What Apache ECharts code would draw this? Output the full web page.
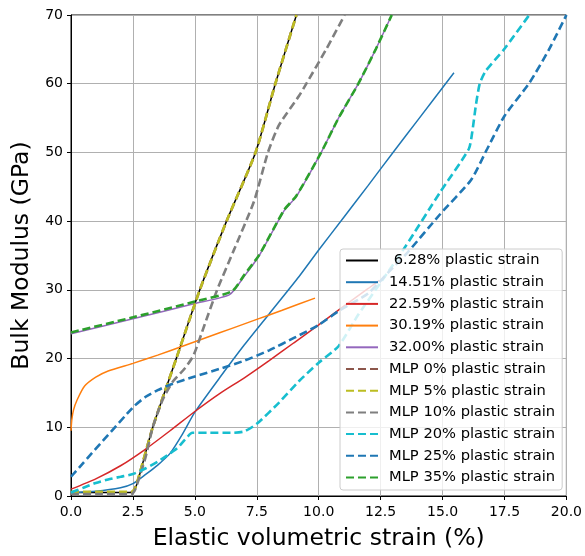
<!DOCTYPE html>
<html>
<head>
<meta charset="utf-8">
<script src="https://cdn.jsdelivr.net/npm/echarts@6/dist/echarts.min.js"></script>
<style>html,body{margin:0;padding:0;background:#fff}#c{width:585px;height:556px}</style>
</head>
<body>
<div id="c"></div>
<script>
// ---- data ([strain %, bulk modulus GPa]) ----
const seriesNames = [' 6.28% plastic strain','14.51% plastic strain','22.59% plastic strain','30.19% plastic strain','32.00% plastic strain',
  'MLP 0% plastic strain','MLP 5% plastic strain','MLP 10% plastic strain','MLP 20% plastic strain','MLP 25% plastic strain','MLP 35% plastic strain'];
const xTicks = [0,2.5,5,7.5,10,12.5,15,17.5,20];
const yTicks = [0,10,20,30,40,50,60,70];

const s628 = [[0,0.5],[1,0.5],[2,0.5],[2.4,0.5],[2.55,0.8],[2.7,2.2],[3.3,10],[4.25,20],[5.2,30],[6.28,40],[7.45,50],[8.25,60],[9.1,70]];
const s1451 = [[0,0.5],[1,0.7],[2,1.2],[2.5,1.8],[3,3.1],[3.5,4.5],[4,6.2],[4.5,9],[5,12.2],[6,17.2],[7,22],[8,26.5],[9.2,31.9],[10,35.8],[11,40.5],[12,45.2],[13,50],[14,54.7],[15.46,61.6]];
const s2259 = [[0,1.0],[1,2.5],[2,4.4],[3,6.8],[4,9.5],[5,12.3],[6,14.9],[7,17.2],[8,19.7],[9,22.3],[10,24.9],[11,27.6],[12,30.2],[12.45,31.4]];
const s3019 = [[0,9.5],[0.03,11],[0.1,12.5],[0.25,14],[0.55,16],[1,17.3],[1.5,18.2],[2.5,19.3],[3.5,20.5],[4.5,21.8],[5.5,23.1],[6.5,24.4],[7.5,25.7],[8.5,27.0],[9.85,28.8]];
const s3200 = [[0,23.6],[2.5,25.8],[5,28.0],[6.4,29.3],[7.0,32],[7.6,35],[8.6,41.5],[9.1,43.6],[10.1,50],[10.8,55],[11.6,60],[12.3,65],[12.95,70]];
const mlp0 = [[0,0.5],[1,0.5],[2,0.5],[2.4,0.5],[2.55,0.9],[2.7,2.3],[3.3,10],[4.25,20],[5.2,30],[6.28,40],[7.45,50],[8.25,60],[9.1,70]];
const mlp5 = [[0,0.6],[1,0.6],[2,0.6],[2.45,0.6],[2.6,1.2],[2.75,3],[3.3,10],[4.25,20],[5.2,30],[6.28,40],[7.45,50],[8.25,60],[9.1,70]];
const mlp10 = [[0,0.3],[1,0.3],[2,0.3],[2.45,0.3],[2.6,1],[3.0,5.5],[3.3,10],[3.7,14],[4.1,16.6],[4.6,18.6],[4.95,20.5],[5.4,25],[5.9,30],[6.6,36],[7.4,43],[7.95,50],[8.4,54],[9.2,58.2],[9.5,60],[10.3,65],[11.05,70]];
const mlp20 = [[0,0.5],[0.5,1.2],[1,1.9],[1.5,2.4],[2,2.8],[2.5,3.2],[3,4],[3.5,5],[4,6.2],[4.3,7],[4.6,8.2],[4.9,9.2],[5.5,9.2],[6.5,9.2],[7.0,9.4],[7.5,10.5],[8.4,13.6],[9.2,16.7],[10,19.4],[10.8,21.8],[11.6,26.4],[12.8,32.6],[13.5,36.3],[14.9,44.2],[16.06,50.5],[16.2,53],[16.35,57],[16.5,60],[16.73,61.8],[17.46,64.9],[18.5,70]];
const mlp25 = [[0,2.8],[2.5,12.9],[3.0,14.4],[3.5,15.4],[4,16.2],[5,17.4],[6,18.5],[7,19.7],[8,21.2],[9,23.0],[10,24.9],[10.8,26.9],[12,29.5],[12.8,32.5],[13.6,35.5],[14.9,41],[16.15,46],[16.8,50.5],[17.5,55.3],[18.5,60.1],[19.3,65],[20,70]];
const mlp35 = [[0,23.8],[2.5,26.0],[5,28.3],[6.5,29.8],[7.0,32.2],[7.6,35.1],[8.6,41.6],[9.1,43.7],[10.1,50],[10.8,55],[11.6,60],[12.3,65],[12.95,70]];

const seriesData = [s628,s1451,s2259,s3019,s3200,mlp0,mlp5,mlp10,mlp20,mlp25,mlp35];
const colors = ['#000000','#1f77b4','#d62728','#ff7f0e','#9467bd','#8c564b','#bcbd22','#7f7f7f','#17becf','#1f77b4','#2ca02c'];
const dashed = [false,false,false,false,false,true,true,true,true,true,true];

const FONT = 'DejaVu Sans';
const chart = echarts.init(document.getElementById('c'), null, {renderer:'canvas'});
const series = seriesData.map((d,i)=>({
  name: seriesNames[i], type:'line', data:d, symbol:'none', showSymbol:false,
  smooth:0.2,
  clip:true, animation:false,
  lineStyle:{color:colors[i], width: dashed[i] ? 2.6 : 1.5, type: dashed[i] ? [8,4] : 'solid'},
  itemStyle:{color:colors[i]}
}));

chart.setOption({
  animation:false,
  backgroundColor:'#fff',
  grid:{left:71, right:15, top:15, bottom:57, show:true, borderColor:'#000', borderWidth:1, backgroundColor:'transparent'},
  xAxis:{type:'value', min:0, max:20, interval:2.5,
    name:'Elastic volumetric strain (%)', nameLocation:'middle', nameGap:31,
    nameTextStyle:{fontFamily:FONT, fontSize:23.5, color:'#000'},
    axisLine:{show:true, lineStyle:{color:'#000', width:1}},
    axisTick:{show:true, length:4, lineStyle:{color:'#000'}},
    axisLabel:{fontFamily:FONT, fontSize:14, color:'#000', margin:9, formatter:v=>v.toFixed(1)},
    splitLine:{show:true, lineStyle:{color:'#b0b0b0', width:1}}},
  yAxis:{type:'value', min:0, max:70, interval:10,
    name:'Bulk Modulus (GPa)', nameLocation:'middle', nameGap:36,
    nameTextStyle:{fontFamily:FONT, fontSize:23.5, color:'#000'},
    axisLine:{show:true, lineStyle:{color:'#000', width:1}},
    axisTick:{show:true, length:4, lineStyle:{color:'#000'}},
    axisLabel:{fontFamily:FONT, fontSize:14, color:'#000', margin:8},
    splitLine:{show:true, lineStyle:{color:'#b0b0b0', width:1}}},
  legend:{orient:'vertical', left:340, top:249, padding:[4,7,5,5],
    itemWidth:32, itemHeight:12, itemGap:6.7,
    itemStyle:{opacity:0},
    backgroundColor:'rgba(255,255,255,0.8)', borderColor:'#cccccc', borderWidth:1, borderRadius:3,
    textStyle:{fontFamily:FONT, fontSize:14.7, color:'#000', padding:[0,0,0,6]},
    data:seriesNames},
  series:series
});
</script>
</body>
</html>
